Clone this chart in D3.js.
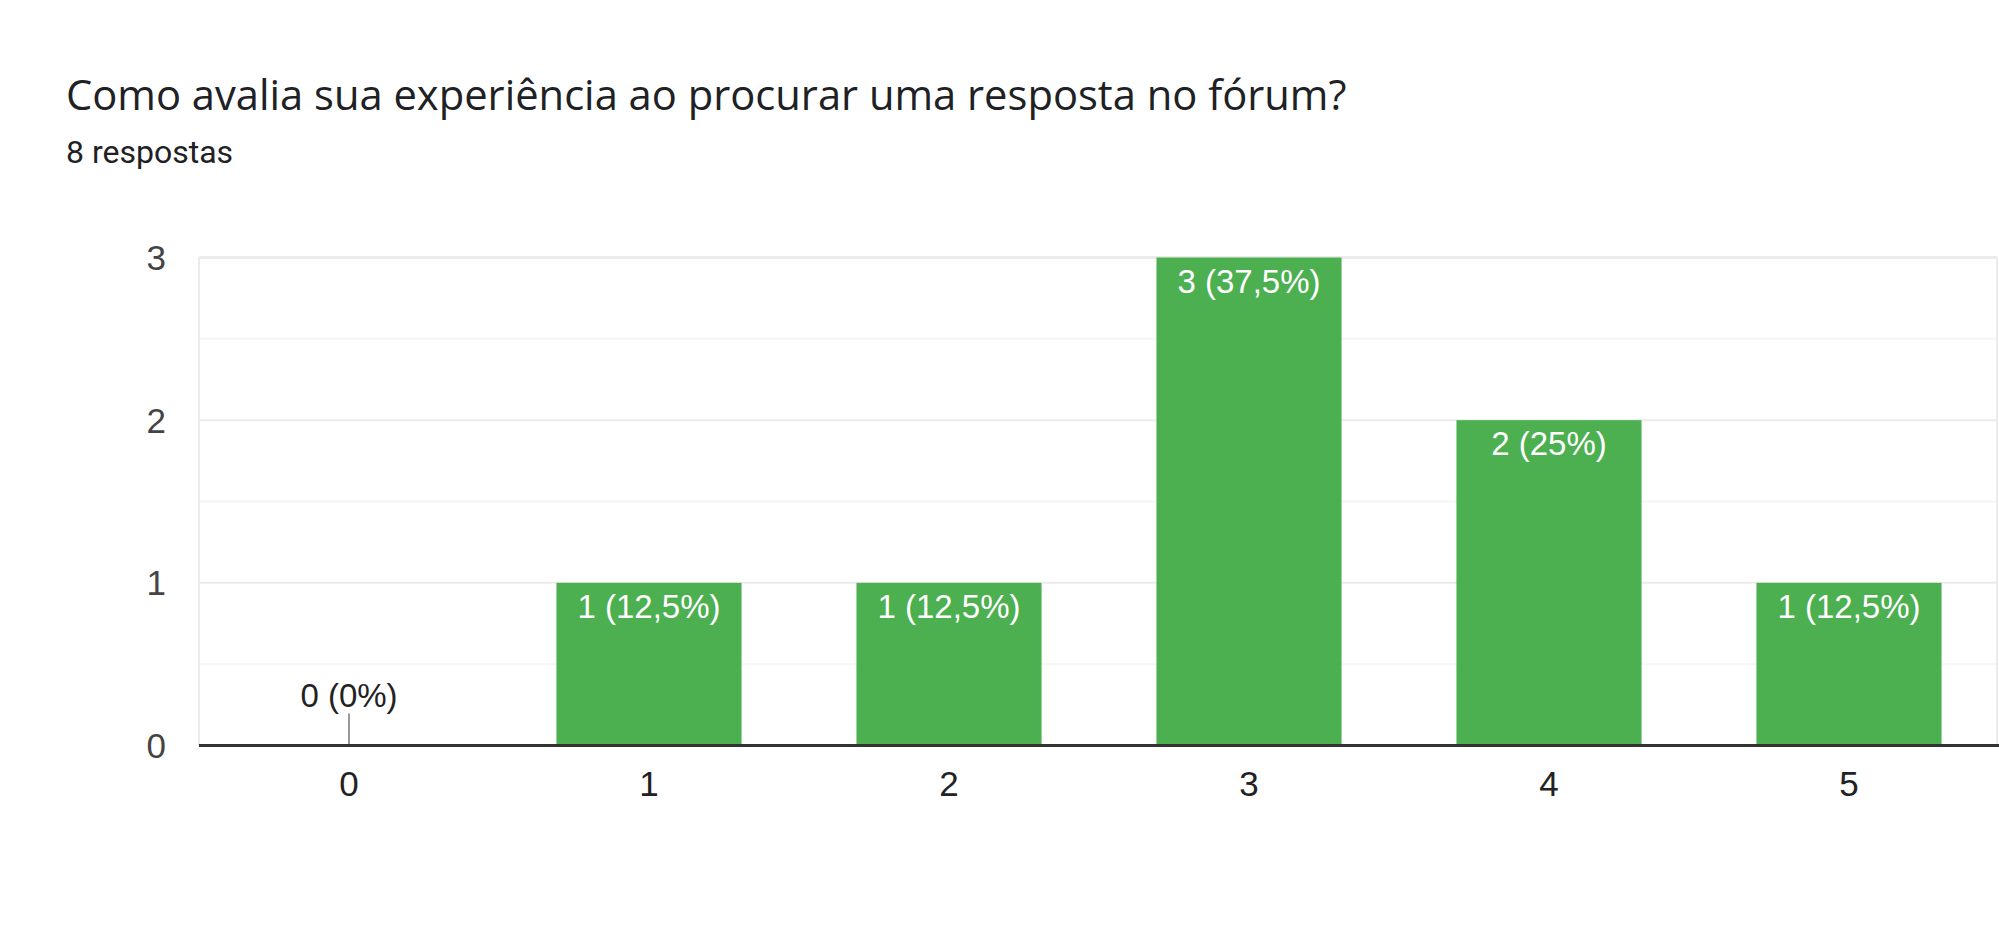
<!DOCTYPE html>
<html>
<head>
<meta charset="utf-8">
<script src="https://cdn.jsdelivr.net/npm/d3@7"></script>
<style>
  html, body { margin: 0; padding: 0; background: #fff; }
  svg { display: block; }
</style>
</head>
<body>
<svg id="chart" width="1999" height="950"></svg>
<script>
const title = "Como avalia sua experiência ao procurar uma resposta no fórum?";
const subtitle = "8 respostas";
const categories = ["0", "1", "2", "3", "4", "5"];
const counts = [0, 1, 1, 3, 2, 1];
const labels = ["0 (0%)", "1 (12,5%)", "1 (12,5%)", "3 (37,5%)", "2 (25%)", "1 (12,5%)"];
const yTicks = [0, 1, 2, 3];
const yMinorTicks = [0.5, 1.5, 2.5];

const svg = d3.select("#chart");
const plot = { left: 199, right: 1999, top: 257.5, bottom: 745.5 };

svg.append("text")
  .attr("x", 66).attr("y", 110)
  .attr("font-family", "'Open Sans', Roboto, sans-serif")
  .attr("font-size", 41.7)
  .attr("fill", "#202124")
  .text(title);

svg.append("text")
  .attr("x", 66).attr("y", 163)
  .attr("font-family", "Roboto, 'Noto Sans', sans-serif")
  .attr("font-size", 32)
  .attr("fill", "#202124")
  .text(subtitle);

const x = d3.scaleBand()
  .domain(categories)
  .range([plot.left, plot.right])
  .paddingInner(0.383)
  .paddingOuter(0.1915);

const y = d3.scaleLinear().domain([0, 3]).range([plot.bottom, plot.top]);

const g = svg.append("g");

// minor gridlines
g.selectAll("line.minor").data(yMinorTicks).enter().append("line")
  .attr("x1", plot.left).attr("x2", 1997)
  .attr("y1", d => y(d)).attr("y2", d => y(d))
  .attr("stroke", "#f6f6f6").attr("stroke-width", 2);

// major gridlines
g.selectAll("line.major").data(yTicks.filter(d => d > 0)).enter().append("line")
  .attr("x1", plot.left).attr("x2", 1997)
  .attr("y1", d => y(d)).attr("y2", d => y(d))
  .attr("stroke", "#ebebeb").attr("stroke-width", d => d === 3 ? 3 : 2);

// left & right borders
g.append("line").attr("x1", plot.left).attr("x2", plot.left)
  .attr("y1", y(3)).attr("y2", plot.bottom)
  .attr("stroke", "#ebebeb").attr("stroke-width", 2);
g.append("line").attr("x1", 1997).attr("x2", 1997)
  .attr("y1", y(3)).attr("y2", plot.bottom)
  .attr("stroke", "#ebebeb").attr("stroke-width", 2);

// bars
g.selectAll("rect.bar").data(counts).enter().append("rect")
  .attr("x", (d, i) => x(categories[i]))
  .attr("width", x.bandwidth())
  .attr("y", d => y(d))
  .attr("height", d => y(0) - y(d))
  .attr("fill", "#4caf50");

// zero marker stems
counts.forEach((d, i) => {
  if (d === 0) {
    const cx = x(categories[i]) + x.bandwidth() / 2;
    g.append("line").attr("x1", cx).attr("x2", cx)
      .attr("y1", y(0) - 32).attr("y2", y(0))
      .attr("stroke", "#999").attr("stroke-width", 2);
  }
});

// bar labels
g.selectAll("text.lbl").data(counts).enter().append("text")
  .attr("x", (d, i) => x(categories[i]) + x.bandwidth() / 2)
  .attr("y", d => d === 0 ? y(0) - 39 : y(d) + 35)
  .attr("text-anchor", "middle")
  .attr("font-family", "'Liberation Sans', Arial, sans-serif")
  .attr("font-size", 33)
  .attr("fill", d => d === 0 ? "#222" : "#fff")
  .text((d, i) => labels[i]);

// baseline
g.append("line").attr("x1", plot.left).attr("x2", 1999)
  .attr("y1", y(0)).attr("y2", y(0))
  .attr("stroke", "#333").attr("stroke-width", 3);

// y axis labels
g.selectAll("text.ytick").data(yTicks).enter().append("text")
  .attr("x", 166)
  .attr("y", d => y(d))
  .attr("dy", "0.36em")
  .attr("text-anchor", "end")
  .attr("font-family", "'Liberation Sans', Arial, sans-serif")
  .attr("font-size", 35)
  .attr("fill", "#444")
  .text(d => d);

// x axis labels
g.selectAll("text.xtick").data(categories).enter().append("text")
  .attr("x", d => x(d) + x.bandwidth() / 2)
  .attr("y", 796)
  .attr("text-anchor", "middle")
  .attr("font-family", "'Liberation Sans', Arial, sans-serif")
  .attr("font-size", 35)
  .attr("fill", "#222")
  .text(d => d);
</script>
</body>
</html>
